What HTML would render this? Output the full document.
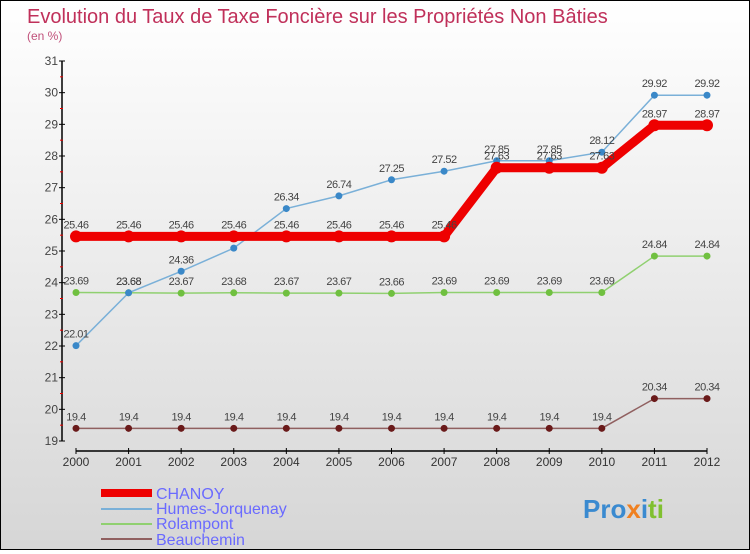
<!DOCTYPE html>
<html><head><meta charset="utf-8"><style>
body{margin:0;width:750px;height:550px;overflow:hidden;font-family:"Liberation Sans",sans-serif}
#c{position:absolute;left:0;top:0;width:748px;height:548px;border:1px solid #000;background:linear-gradient(#ffffff,#d6d6d6)}
</style></head><body>
<div id="c">
<svg id="s" width="748" height="548" xmlns="http://www.w3.org/2000/svg">
<text x="26" y="22" font-size="20" fill="#c0305a">Evolution du Taux de Taxe Foncière sur les Propriétés Non Bâties</text>
<text x="26" y="39" font-size="12" fill="#c0507a">(en %)</text>
<g id="axes"></g><g id="series"></g>
<g font-size="16" fill="#6a6aff">
<rect x="100" y="488" width="51" height="8" fill="#e00"/>
<text x="155" y="498">CHANOY</text>
<rect x="100" y="507" width="51" height="2" fill="#7ab0d8"/>
<text x="155" y="513">Humes-Jorquenay</text>
<rect x="100" y="522" width="51" height="2" fill="#90d070"/>
<text x="155" y="528">Rolampont</text>
<rect x="100" y="537" width="51" height="2" fill="#906060"/>
<text x="155" y="544">Beauchemin</text>
</g>
<text x="582" y="517" font-size="26" font-weight="bold"><tspan fill="#3a8ad0">Pro</tspan><tspan fill="#f08020">x</tspan><tspan fill="#3a8ad0">i</tspan><tspan fill="#80c030">ti</tspan></text>
</svg></div>
<script>
const years=[2000,2001,2002,2003,2004,2005,2006,2007,2008,2009,2010,2011,2012];
const chanoy=[25.46,25.46,25.46,25.46,25.46,25.46,25.46,25.46,27.63,27.63,27.63,28.97,28.97];
const humes=[22.01,23.68,24.36,25.09,26.34,26.74,27.25,27.52,27.85,27.85,28.12,29.92,29.92];
const rolampont=[23.69,23.68,23.67,23.68,23.67,23.67,23.66,23.69,23.69,23.69,23.69,24.84,24.84];
const beauchemin=[19.4,19.4,19.4,19.4,19.4,19.4,19.4,19.4,19.4,19.4,19.4,20.34,20.34];
const yTicks=[19,20,21,22,23,24,25,26,27,28,29,30,31];
const NS="http://www.w3.org/2000/svg";
const X=i=>75+i*(706-75)/(years.length-1);
const Y=v=>440-(v-19)*(380/12);
function mk(t,a,p){const e=document.createElementNS(NS,t);for(const k in a)e.setAttribute(k,a[k]);p.appendChild(e);return e;}
const ax=document.getElementById('axes');
let e=mk('line',{x1:61,y1:Y(31),x2:61,y2:Y(19),stroke:'#000','stroke-width':1.5},ax);

e=mk('line',{x1:X(0),y1:450,x2:X(12),y2:450,stroke:'#000','stroke-width':1.5},ax);

yTicks.forEach(v=>{mk('line',{x1:58,y1:Y(v),x2:64,y2:Y(v),stroke:'#000'},ax);
 if(v<31)mk('line',{x1:59,y1:Y(v+0.5),x2:62,y2:Y(v+0.5),stroke:'#e00'},ax);
 const t=mk('text',{x:57,y:Y(v)+4,'font-size':12,fill:'#444','text-anchor':'end'},ax);t.textContent=v;
 });
years.forEach((y,i)=>{mk('line',{x1:X(i),y1:447,x2:X(i),y2:453,stroke:'#000'},ax);
 const t=mk('text',{x:X(i),y:465,'font-size':12,fill:'#333','text-anchor':'middle'},ax);t.textContent=y;
 });
const sg=document.getElementById('series');
function series(name,data,col,w,dot,r){
 const g=mk('g',{},sg);
 mk('polyline',{points:data.map((v,i)=>X(i)+','+Y(v)).join(' '),fill:'none',stroke:col,'stroke-width':w},g);
 data.forEach((v,i)=>{const c=mk('circle',{cx:X(i),cy:Y(v),r:r,fill:dot},g);
  
  const t=mk('text',{x:X(i),y:Y(v)-8,'font-size':11,fill:'#444','text-anchor':'middle','letter-spacing':'-0.5'},g);
  t.textContent=String(v);});
}
series('beauchemin',beauchemin,'#906060',1.5,'#6a1a1a',3.5);
series('rolampont',rolampont,'#90d070',1.5,'#70c040',3.5);
series('humes',humes,'#7ab0d8',1.5,'#3a88c8',3.5);
series('chanoy',chanoy,'#e00',9,'#e00',6);
</script></body></html>
